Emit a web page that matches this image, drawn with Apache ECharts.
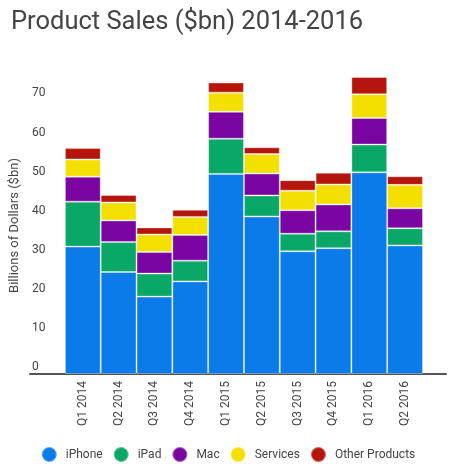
<!DOCTYPE html>
<html style="height: 100%">
<head>
    <meta charset="utf-8">
    <script src="https://cdn.jsdelivr.net/npm/echarts@6/dist/echarts.min.js"></script>
    <title>Product Sales ($bn) 2014-2016</title>
</head>
<body style="height: 100%; margin: 0; background: #fff">
<div id="container" style="width: 456px; height: 475px"></div>
<script type="text/javascript">

    // quarters and product revenue
    let quarters = ['Q1 2014', 'Q2 2014', 'Q3 2014', 'Q4 2014', 'Q1 2015',
                    'Q2 2015', 'Q3 2015', 'Q4 2015', 'Q1 2016', 'Q2 2016']
    let iphone   = [32.6, 26.1, 19.8, 23.7, 51.2, 40.3, 31.4, 32.2, 51.6, 32.9]
    let ipad     = [11.5, 7.7, 5.9, 5.3, 9.0, 5.4, 4.5, 4.3, 7.1, 4.4]
    let mac      = [6.4, 5.5, 5.5, 6.6, 6.9, 5.6, 6.0, 6.9, 6.8, 5.1]
    let services = [4.4, 4.6, 4.5, 4.6, 4.9, 5.0, 5.0, 5.1, 6.1, 6.0]
    let other    = [2.9, 1.9, 1.8, 1.8, 2.6, 1.7, 2.7, 3.0, 4.4, 2.2]

    let names  = ['iPhone', 'iPad', 'Mac', 'Services', 'Other Products']
    let values = [iphone, ipad, mac, services, other]
    let colors = ['#0a7be8', '#0aa866', '#7a05a2', '#f4e000', '#b5150b']

    let font = 'Roboto'
    let series = names.map((n, i) => ({
        name: n,
        type: 'bar',
        stack: 'total',
        barCategoryGap: 0,
        data: values[i],
        itemStyle: {color: colors[i], borderColor: 'rgba(255,255,255,0.35)', borderWidth: 1}
    }))

    let chart = echarts.init(document.getElementById('container'))
    chart.setOption({
        animation: false,
        color: colors,
        title: {
            text: 'Product Sales ($bn) 2014-2016',
            left: 6, top: 5,
            textStyle: {fontFamily: font, fontSize: 25.5, fontWeight: 'normal', color: '#444'}
        },
        legend: {
            data: names,
            bottom: 7,
            icon: 'circle',
            itemWidth: 15, itemHeight: 15, itemGap: 10,
            textStyle: {fontFamily: font, fontSize: 12, color: '#444', padding: [0, 0, 0, 4]}
        },
        grid: [
            {left: 63, right: 33, top: 77, bottom: 101},
            {left: 30, right: 10, top: 77, bottom: 101}
        ],
        xAxis: [
            {
                type: 'category', data: quarters, gridIndex: 0,
                axisLine: {show: false}, axisTick: {show: false},
                axisLabel: {rotate: 90, margin: 7, fontFamily: font, fontSize: 12, color: '#444'}
            },
            {
                type: 'value', gridIndex: 1, min: 0, max: 1,
                axisLine: {show: true, lineStyle: {color: '#555', width: 2}},
                axisTick: {show: false}, axisLabel: {show: false}, splitLine: {show: false}
            }
        ],
        yAxis: [
            {
                type: 'value', gridIndex: 0, min: 0, max: 'dataMax', interval: 10,
                name: 'Billions of Dollars ($bn)', nameLocation: 'middle', nameGap: 42,
                nameTextStyle: {fontFamily: font, fontSize: 13, color: '#444'},
                axisLine: {show: false}, axisTick: {show: false}, splitLine: {show: false},
                axisLabel: {
                    showMaxLabel: false, align: 'left', margin: 33, verticalAlign: 'bottom',
                    padding: [0, 0, 1, 0], fontFamily: font, fontSize: 12, color: '#444'
                }
            },
            {type: 'value', gridIndex: 1, show: false, min: 0, max: 1}
        ],
        series: series
    })

</script>
</body>
</html>
